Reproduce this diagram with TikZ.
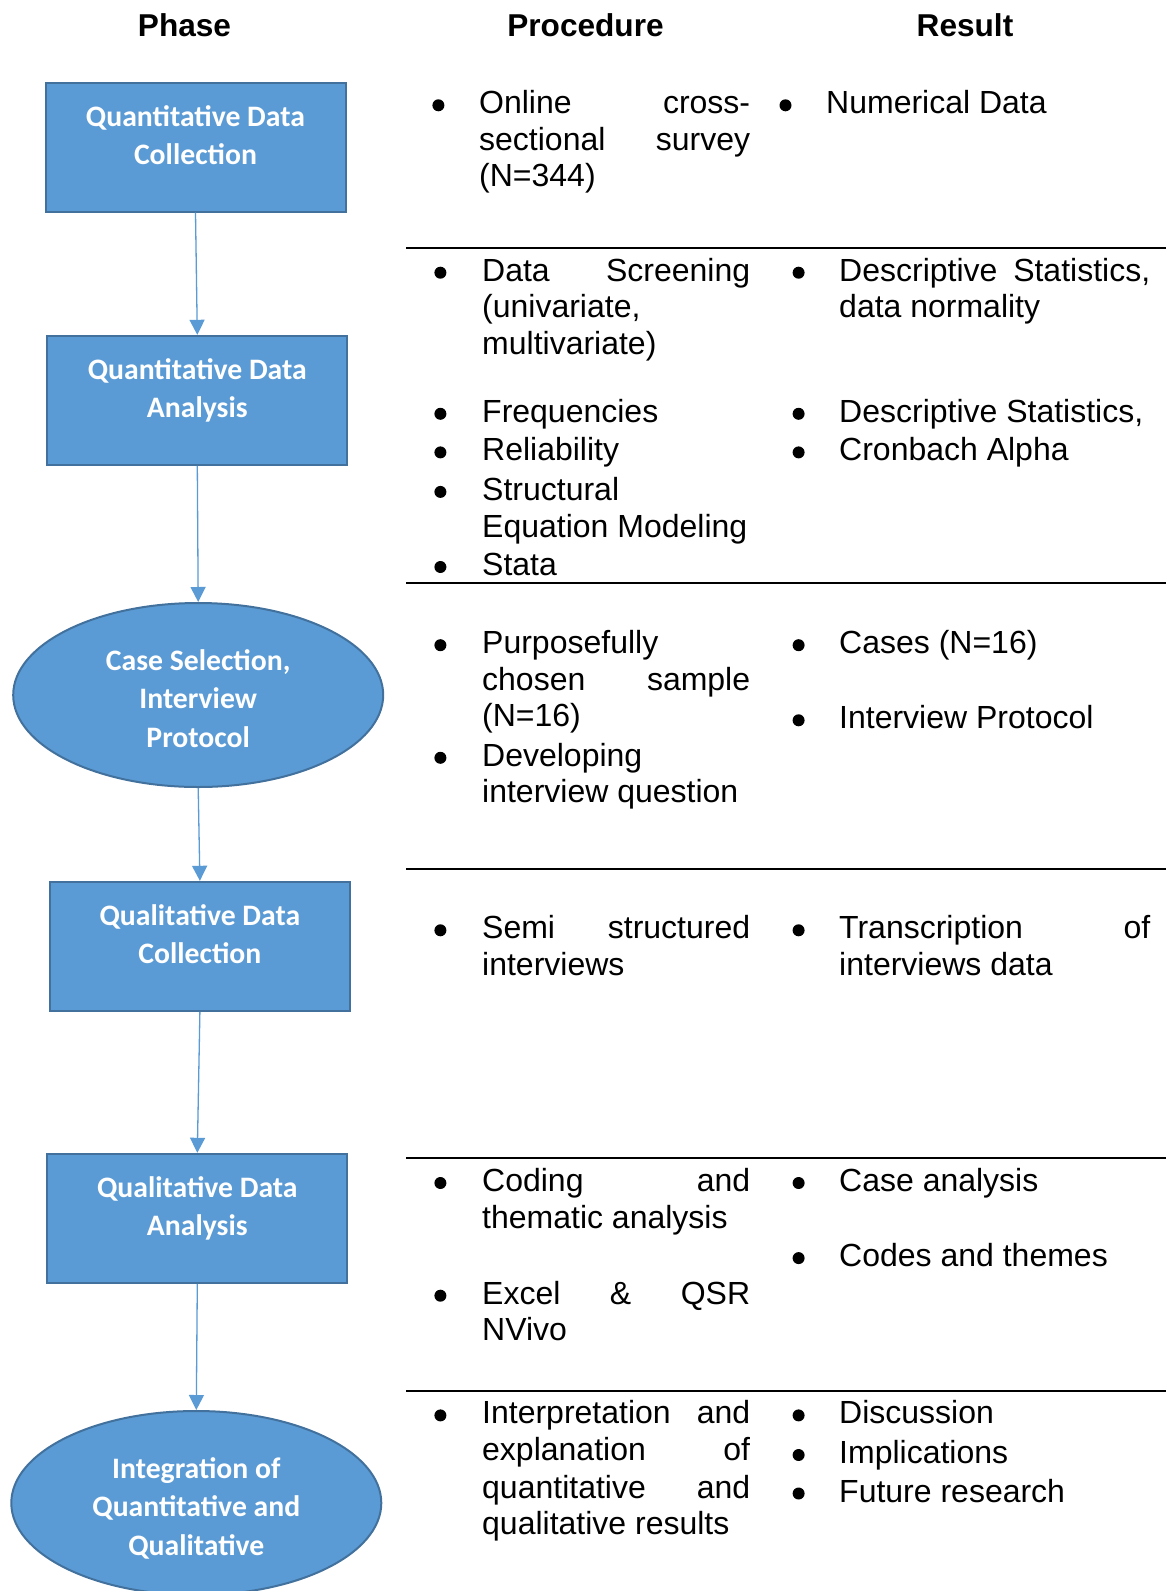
\documentclass[tikz,border=0pt]{standalone}
\usepackage{fontspec}
\setmainfont{Liberation Sans}
\newfontfamily\boxfont{Carlito}
\usetikzlibrary{shapes.geometric,arrows.meta}

\definecolor{phasefill}{HTML}{5B9BD5}
\definecolor{phaseedge}{HTML}{41719C}
\definecolor{flowblue}{HTML}{5B9BD5}

% text inside the phase shapes: first baseline fixed below the top
\newcommand\boxtext[1]{\parbox[c][129pt][t]{300pt}{\centering\rule{0pt}{43.5pt}#1}}
\newcommand\ovaltext[1]{\parbox[c][130pt][t]{250pt}{\centering\rule{0pt}{40pt}#1}}

% table cells: plain line, justified line, bullet
\newcommand\txtline[4]{\node[celltext] (#1) at (#2,#3) {#4};}
\newcommand\jusline[5]{\node[celltext] (#1) at (#2,#3) {\makebox[#4pt][s]{#5}};}
\newcommand\bulpt[3]{\node[dot] (#1) at (#2,#3) {};}

\tikzset{
  phasebox/.style={rectangle, draw=phaseedge, fill=phasefill, line width=2pt,
    inner sep=0pt, minimum width=300pt, minimum height=129pt,
    text=white, font=\boxfont\bfseries\fontsize{29.7}{38.5}\selectfont},
  phaseoval/.style={ellipse, draw=phaseedge, fill=phasefill, line width=2pt,
    inner sep=0pt, minimum width=370pt, minimum height=184pt,
    text=white, font=\boxfont\bfseries\fontsize{29.7}{38.5}\selectfont},
  flow/.style={draw=flowblue, line width=1.3pt, -{Triangle[width=15pt,length=15pt]}},
  header/.style={anchor=base, inner sep=0pt, font=\bfseries\fontsize{31.6}{36}\selectfont},
  celltext/.style={anchor=base west, inner sep=0pt, font=\fontsize{32}{36.5}\selectfont},
  dot/.style={circle, fill=black, inner sep=0pt, minimum size=12pt},
  rowrule/.style={line width=2pt, black}
}

\begin{document}
\begin{tikzpicture}[x=1pt,y=-1pt]
\useasboundingbox (0,0) rectangle (1166,1591);
\fill[white] (0,0) rectangle (1166,1591);

% column headers
\node[header] (hphase) at (184.5,36.7) {Phase};
\node[header] (hproc) at (585.5,36.7) {Procedure};
\node[header] (hres) at (965,36.7) {Result};

% phases
\node[phasebox] (b1) at (195.5,147) {\boxtext{Quantitative Data\\Collection}};
\node[phasebox] (b2) at (197.3,400.3) {\boxtext{Quantitative Data\\Analysis}};
\node[phaseoval] (e1) at (198.2,695) {\ovaltext{Case Selection,\\Interview\\Protocol}};
\node[phasebox] (b3) at (199.9,946.3) {\boxtext{Qualitative Data\\Collection}};
\node[phasebox] (b4) at (197.3,1218.3) {\boxtext{Qualitative Data\\Analysis}};
\node[phaseoval] (e2) at (196.3,1503) {\ovaltext{Integration of\\Quantitative and\\Qualitative}};

% flow between phases
\draw[flow] (b1.south) -- (b2.north);
\draw[flow] (b2.south) -- (e1.north);
\draw[flow] (e1.south) -- (b3.north);
\draw[flow] (b3.south) -- (b4.north);
\draw[flow] (b4.south) -- (e2.north);

% row separators
\draw[rowrule] (406,247.5) -- (1166,247.5);
\draw[rowrule] (406,583) -- (1166,583);
\draw[rowrule] (406,869) -- (1166,869);
\draw[rowrule] (406,1158) -- (1166,1158);
\draw[rowrule] (406,1391.3) -- (1166,1391.3);

% row 1
\bulpt{p1a}{438.4}{105.3}
\jusline{p1l1}{479}{113.8}{271}{Online cross-}
\jusline{p1l2}{479}{150.3}{271}{sectional survey}
\txtline{p1l3}{479}{186.9}{(N=344)}
\bulpt{r1a}{785.5}{105.3}
\txtline{r1l1}{826}{113.8}{Numerical Data}

% row 2
\bulpt{p2a}{440.4}{272.7}
\jusline{p2l1}{482}{281.2}{268}{Data Screening}
\txtline{p2l2}{482}{317.8}{(univariate,}
\txtline{p2l3}{482}{354.3}{multivariate)}
\bulpt{p2b}{440.4}{413.8}
\txtline{p2l4}{482}{422.3}{Frequencies}
\bulpt{p2c}{440.4}{452.4}
\txtline{p2l5}{482}{460.9}{Reliability}
\bulpt{p2d}{440.4}{491.9}
\txtline{p2l6}{482}{500.4}{Structural}
\txtline{p2l7}{482}{537.0}{Equation Modeling}
\bulpt{p2e}{440.4}{567}
\txtline{p2l8}{482}{575.5}{Stata}
\bulpt{r2a}{798.6}{272.7}
\jusline{r2l1}{839}{281.2}{311}{Descriptive Statistics,}
\txtline{r2l2}{839}{317.8}{data normality}
\bulpt{r2b}{798.6}{413.8}
\txtline{r2l3}{839}{422.3}{Descriptive Statistics,}
\bulpt{r2c}{798.6}{452.4}
\txtline{r2l4}{839}{460.9}{Cronbach Alpha}

% row 3
\bulpt{p3a}{440.4}{645.2}
\txtline{p3l1}{482}{653.7}{Purposefully}
\jusline{p3l2}{482}{690.2}{268}{chosen sample}
\txtline{p3l3}{482}{726.7}{(N=16)}
\bulpt{p3b}{440.4}{757.8}
\txtline{p3l4}{482}{766.3}{Developing}
\txtline{p3l5}{482}{802.8}{interview question}
\bulpt{r3a}{798.6}{645.2}
\txtline{r3l1}{839}{653.7}{Cases (N=16)}
\bulpt{r3b}{798.6}{720.3}
\txtline{r3l2}{839}{728.8}{Interview Protocol}

% row 4
\bulpt{p4a}{440.4}{930.3}
\jusline{p4l1}{482}{938.8}{268}{Semi structured}
\txtline{p4l2}{482}{975.4}{interviews}
\bulpt{r4a}{798.6}{930.3}
\jusline{r4l1}{839}{938.8}{311}{Transcription of}
\txtline{r4l2}{839}{975.4}{interviews data}

% row 5
\bulpt{p5a}{440.4}{1183}
\jusline{p5l1}{482}{1191.5}{268}{Coding and}
\txtline{p5l2}{482}{1228.0}{thematic analysis}
\bulpt{p5b}{440.4}{1295.7}
\jusline{p5l3}{482}{1304.2}{268}{Excel \& QSR}
\txtline{p5l4}{482}{1340.7}{NVivo}
\bulpt{r5a}{798.6}{1183}
\txtline{r5l1}{839}{1191.5}{Case analysis}
\bulpt{r5b}{798.6}{1258.1}
\txtline{r5l2}{839}{1266.6}{Codes and themes}

% row 6
\bulpt{p6a}{440.4}{1415.4}
\jusline{p6l1}{482}{1423.9}{268}{Interpretation and}
\jusline{p6l2}{482}{1460.4}{268}{explanation of}
\jusline{p6l3}{482}{1498.0}{268}{quantitative and}
\txtline{p6l4}{482}{1534.5}{qualitative results}
\bulpt{r6a}{798.6}{1415.4}
\txtline{r6l1}{839}{1423.9}{Discussion}
\bulpt{r6b}{798.6}{1455}
\txtline{r6l2}{839}{1463.5}{Implications}
\bulpt{r6c}{798.6}{1493.5}
\txtline{r6l3}{839}{1502}{Future research}
\end{tikzpicture}
\end{document}
